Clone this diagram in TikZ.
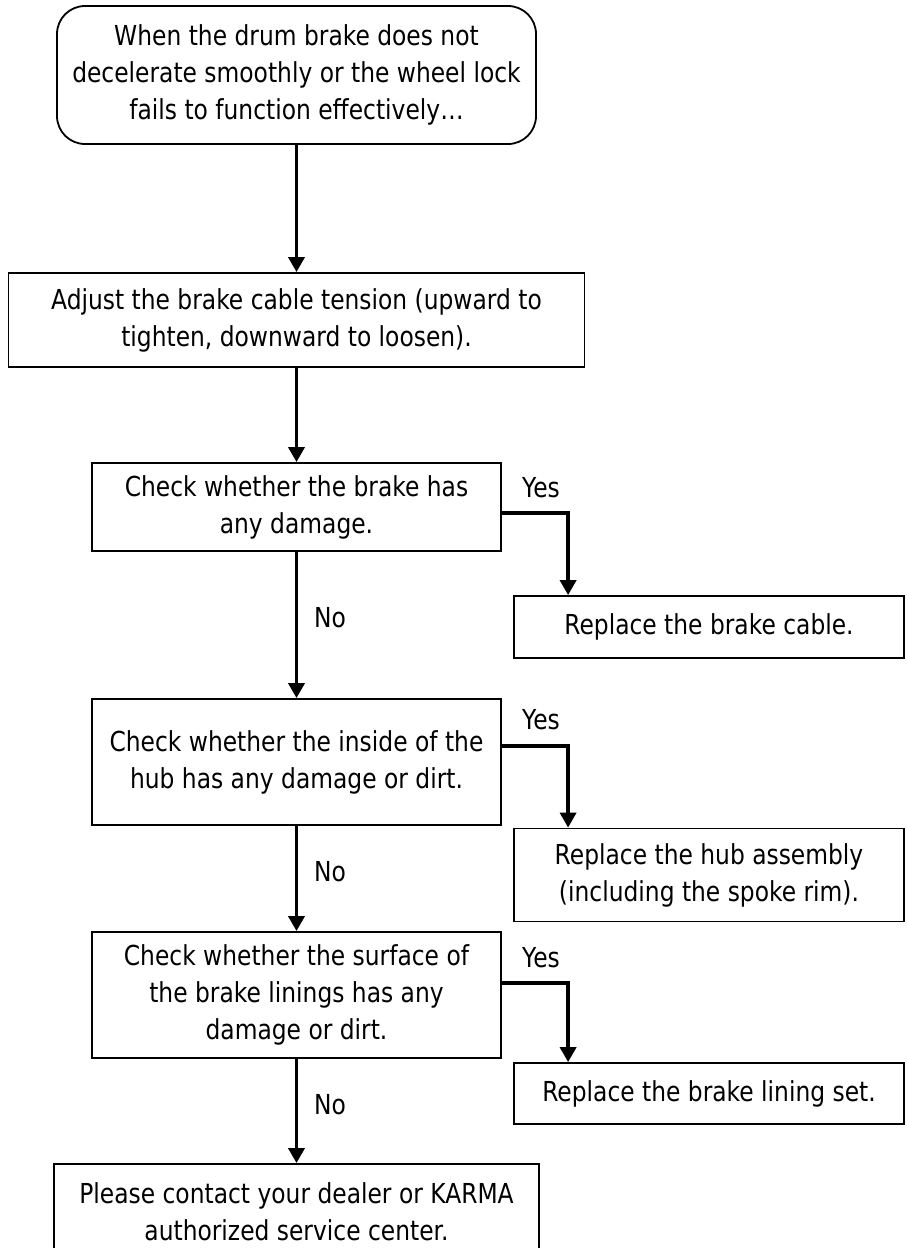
\documentclass[tikz,border=0pt]{standalone}
\usepackage{fontspec}
\setmainfont{DejaVu Sans}[FakeStretch=0.85]
\usetikzlibrary{arrows.meta}
\newcommand\diagfont{\fontsize{27.5}{37}\selectfont}
\begin{document}
\begin{tikzpicture}[x=1pt,y=-1pt,
  box/.style={draw, line width=1.8pt, inner sep=0pt, align=center, font=\diagfont},
  arr/.style={line width=3.5pt, -{Triangle[length=15pt,width=16pt]}},
  lbl/.style={inner sep=0pt, font=\diagfont}]
\fill[white] (0,0) rectangle (907,1248);
\useasboundingbox (0,0) rectangle (907,1248);

\node[box, rounded corners=28pt, minimum width=479pt, minimum height=138pt] (start) at (296.5,75)
  {When the drum brake does not\\decelerate smoothly or the wheel lock\\fails to function effectively…};
\node[box, minimum width=576pt, minimum height=94pt] (adjust) at (296.5,320)
  {Adjust the brake cable tension (upward to\\tighten, downward to loosen).};
\node[box, minimum width=409pt, minimum height=88pt] (chk1) at (296.5,507)
  {Check whether the brake has\\any damage.};
\node[box, minimum width=390pt, minimum height=62pt] (cable) at (709,627)
  {Replace the brake cable.};
\node[box, minimum width=409pt, minimum height=126pt] (chk2) at (296.5,762)
  {Check whether the inside of the\\hub has any damage or dirt.};
\node[box, minimum width=390pt, minimum height=93pt] (hub) at (709,875)
  {Replace the hub assembly\\(including the spoke rim).};
\node[box, minimum width=409pt, minimum height=126pt] (chk3) at (296.5,995)
  {Check whether the surface of\\the brake linings has any\\damage or dirt.};
\node[box, minimum width=390pt, minimum height=61pt] (lining) at (709,1093.5)
  {Replace the brake lining set.};
\node[box, minimum width=485pt, minimum height=96pt] (contact) at (296.5,1212)
  {Please contact your dealer or KARMA\\authorized service center.};

\draw[arr] (start.south) -- (adjust.north);
\draw[arr] (adjust.south) -- (chk1.north);
\draw[arr] (chk1.south) -- (chk2.north);
\draw[arr] (chk2.south) -- (chk3.north);
\draw[arr] (chk3.south) -- (contact.north);

\draw[arr] (chk1.east |- 0,513) -| ([xshift=55pt]cable.north west);
\draw[arr] (chk2.east |- 0,746) -| ([xshift=55pt]hub.north west);
\draw[arr] (chk3.east |- 0,983) -| ([xshift=55pt]lining.north west);

\node[lbl] (yes1) at (541,488) {Yes};
\node[lbl] (yes2) at (541,720) {Yes};
\node[lbl] (yes3) at (541,958) {Yes};
\node[lbl] (no1) at (330,618) {No};
\node[lbl] (no2) at (330,872) {No};
\node[lbl] (no3) at (330,1105) {No};
\end{tikzpicture}
\end{document}
